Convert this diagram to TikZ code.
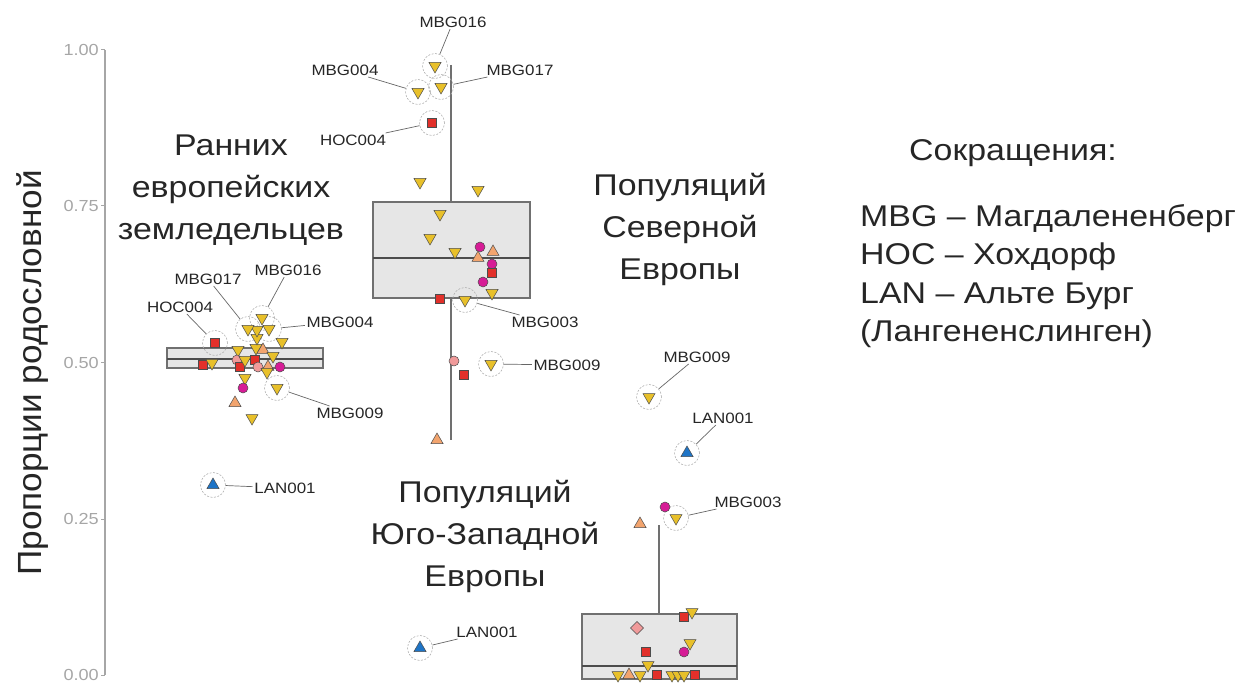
\documentclass[tikz,border=0pt]{standalone}
\usepackage{fontspec}
\setmainfont{Liberation Sans}[FakeStretch=1.13]
\newfontfamily\ylabfont{Liberation Sans}[FakeStretch=1.05]
\usetikzlibrary{shapes.geometric}
\definecolor{cyel}{HTML}{E8C02A}
\definecolor{cred}{HTML}{E2302A}
\definecolor{cmag}{HTML}{D61C96}
\definecolor{corange}{HTML}{F2A46E}
\definecolor{cpink}{HTML}{F09A9A}
\definecolor{cblue}{HTML}{1E74C6}
\definecolor{boxfill}{HTML}{E6E6E6}
\definecolor{boxline}{HTML}{707070}
\definecolor{axisgray}{HTML}{A6A6A6}
\tikzset{
  mk/.style={inner sep=0pt, outer sep=0pt, draw=black!70, line width=0.5pt},
  ydn/.style={mk, regular polygon, regular polygon sides=3, shape border rotate=180, minimum size=14pt, fill=cyel},
  oup/.style={mk, regular polygon, regular polygon sides=3, minimum size=14pt, fill=corange},
  bup/.style={mk, regular polygon, regular polygon sides=3, minimum size=14pt, fill=cblue},
  rsq/.style={mk, rectangle, minimum size=9pt, fill=cred},
  mci/.style={mk, circle, minimum size=10pt, fill=cmag},
  pci/.style={mk, circle, minimum size=10pt, fill=cpink},
  pdi/.style={mk, diamond, minimum size=13pt, fill=cpink},
  hl/.style={circle, draw=gray!60, dash pattern=on 2pt off 1.5pt, line width=0.6pt, minimum size=25pt, inner sep=0pt},
  lbl/.style={font=\fontsize{15}{17}\selectfont, text=black!85, inner sep=1.5pt},
  lead/.style={draw=gray!80!black, line width=0.7pt},
  boxst/.style={draw=boxline, fill=boxfill, line width=1.4pt},
  median/.style={draw=black!70, line width=2.4pt},
  whisk/.style={draw=boxline, line width=1.4pt},
  ticklbl/.style={font=\fontsize{16}{18}\selectfont, text=axisgray, anchor=east, inner sep=1pt},
  title/.style={font=\fontsize{30}{42}\selectfont, align=center, text=black!85},
}
\begin{document}
\begin{tikzpicture}[x=1pt,y=-1pt]
\useasboundingbox (0,0) rectangle (1250,684);
% axis
\draw[axisgray, line width=2pt] (105,50) -- (105,675);
\foreach \v/\yy [count=\i] in {1.00/50,0.75/206,0.50/363,0.25/519,0.00/675}{
  \draw[axisgray, line width=1pt] (101,\yy) -- (105,\yy);
  \node[ticklbl] (tick\i) at (100,\yy) {\v};
}
\node[rotate=90, font=\ylabfont\fontsize{33.5}{36}\selectfont, text=black!85] (ylab) at (33,373) {Пропорции родословной};

% boxes
\draw[boxst] (167,348) rectangle (323,368);
\draw[median] (167,359) -- (323,359);
\draw[whisk] (451,65) -- (451,202);
\draw[whisk] (451,298) -- (451,440);
\draw[boxst] (373,202) rectangle (530,298);
\draw[median] (373,258) -- (530,258);
\draw[whisk] (659,525) -- (659,614);
\draw[boxst] (582,614) rectangle (737,679);
\draw[median] (582,666) -- (737,666);

% titles
\node[title] (t1) at (231,190) {Ранних\\европейских\\земледельцев};
\node[title] (t2) at (680,229) {Популяций\\Северной\\Европы};
\node[title] (t3) at (485,536) {Популяций\\Юго-Западной\\Европы};

% legend
\node[font=\fontsize{30}{36}\selectfont, text=black!85] (legT) at (1013,153) {Сокращения:};
\node[font=\fontsize{30}{38.5}\selectfont, text=black!85, align=left, anchor=west, inner sep=0pt] (legB) at (860,276) {MBG – Магдалененберг\\HOC – Хохдорф\\LAN – Альте Бург\\(Лангененслинген)};

% highlight circles
\foreach \nm/\x/\y in {a16/262/318, a17/248/329, a04/269/329, aH/215/343, a09/277/388, aL/213/485,
  b16/435/66, b04/418/92, b17/441/87, bH/432/123, b03/465/300, b09/491/364,
  c09/649/397, cL/687/453, c03/676/518, dL/420/648}
  \node[hl] (h\nm) at (\x,\y) {};

% plain points
\foreach \s/\x/\y [count=\i] in {rsq/203/365, ydn/212/363, ydn/238/350, pci/237/360, rsq/240/367, ydn/245/360,
  rsq/255/360, ydn/256/348, oup/263/350, ydn/257/338, pci/258/367, oup/268/367, ydn/273/356, ydn/267/372,
  mci/280/367, ydn/282/342, ydn/245/378, mci/243/388, oup/235/403, ydn/252/418, ydn/257/330}
  \node[\s] (ga\i) at (\x,\y) {};
\foreach \s/\x/\y [count=\i] in {ydn/420/182, ydn/478/190, ydn/440/214, ydn/430/238, ydn/455/252, mci/480/247,
  oup/493/252, oup/478/258, mci/492/264, rsq/492/273, mci/483/282, ydn/492/293, rsq/440/299,
  pci/454/361, rsq/464/375, oup/437/440}
  \node[\s] (gb\i) at (\x,\y) {};
\foreach \s/\x/\y [count=\i] in {mci/665/507, oup/640/524, rsq/684/617, ydn/692/612, pdi/637/628, rsq/646/652,
  ydn/690/643, mci/684/652, ydn/648/665, ydn/618/675, oup/629/675, ydn/640/675, rsq/657/675,
  ydn/672/675, ydn/678/675, ydn/684/675, rsq/695/675}
  \node[\s] (gc\i) at (\x,\y) {};

% highlighted points
\foreach \s/\nm in {ydn/a16, ydn/a17, ydn/a04, rsq/aH, ydn/a09, bup/aL, ydn/b16, ydn/b04, ydn/b17, rsq/bH,
  ydn/b03, ydn/b09, ydn/c09, bup/cL, ydn/c03, bup/dL}
  \node[\s] (m\nm) at (h\nm.center) {};

% labels
\node[lbl] (la16) at (288,270) {MBG016};
\node[lbl] (la17) at (208,279) {MBG017};
\node[lbl] (la04) at (340,322) {MBG004};
\node[lbl] (laH) at (180,307) {HOC004};
\node[lbl] (la09) at (350,413) {MBG009};
\node[lbl] (laL) at (285,488) {LAN001};
\node[lbl] (lb16) at (453,22) {MBG016};
\node[lbl] (lb04) at (345,70) {MBG004};
\node[lbl] (lb17) at (520,70) {MBG017};
\node[lbl] (lbH) at (353,140) {HOC004};
\node[lbl] (lb03) at (545,322) {MBG003};
\node[lbl] (lb09) at (567,365) {MBG009};
\node[lbl] (lc09) at (697,357) {MBG009};
\node[lbl] (lcL) at (723,418) {LAN001};
\node[lbl] (lc03) at (748,502) {MBG003};
\node[lbl] (ldL) at (487,632) {LAN001};

\foreach \nm in {a16,a17,a04,aH,a09,aL,b16,b04,b17,bH,b03,b09,c09,cL,c03,dL}
  \draw[lead] (l\nm) -- (h\nm);
\end{tikzpicture}
\end{document}
